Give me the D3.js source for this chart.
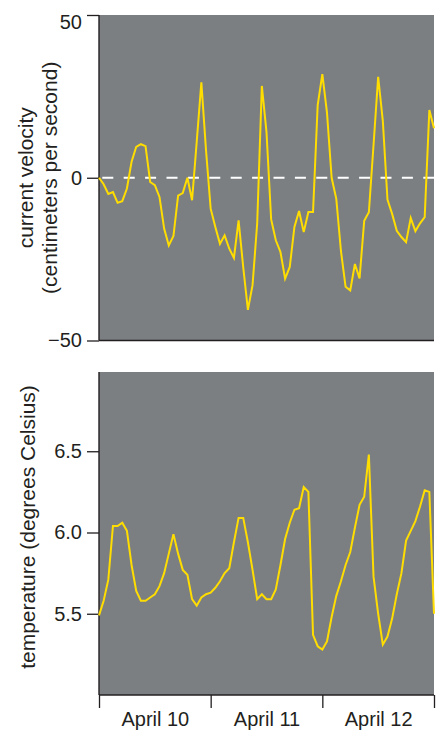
<!DOCTYPE html>
<html>
<head>
<meta charset="utf-8">
<script src="https://cdn.jsdelivr.net/npm/d3@7"></script>
<style>
  body { margin: 0; background: #fff; }
  svg { display: block; font-family: 'Liberation Sans', Arial, Helvetica, sans-serif; }
</style>
</head>
<body>
<svg id="chart"></svg>
<script>
// hourly readings, April 10 00:00 to April 13 00:00
const startDay = new Date(2000, 3, 10);
const endDay = new Date(2000, 3, 13);
const dayLabels = ['April 10', 'April 11', 'April 12'];

const velocity = [
  0, -2, -5, -4.4, -7.7, -7.2, -3.3, 4.9, 9.5, 10.3, 9.7, -1.3,
  -2.3, -5.9, -15.6, -20.8, -17.9, -5.5, -4.7, 0, -6.9, 11, 29.3, 8.5,
  -9.5, -15.1, -20.3, -17.7, -21.8, -24.6, -13.1, -27.5, -40.6, -33, -14, 28.2,
  14, -12.8, -19.2, -22.8, -31, -27.4, -15.1, -10.2, -16.7, -10.5, -10.5, 22.3,
  31.8, 20, 0, -6.5, -22.5, -33.5, -34.6, -26.5, -30.9, -13.2, -10.6, 10,
  31, 17.5, -6.7, -11.1, -16.3, -18.2, -19.8, -12.4, -16.4, -14, -12.1, 20.8,
  15.2
];

const temperature = [
  5.49, 5.58, 5.71, 6.04, 6.04, 6.06, 6.01, 5.80, 5.64, 5.58, 5.58, 5.60,
  5.62, 5.67, 5.75, 5.87, 5.99, 5.87, 5.77, 5.74, 5.59, 5.55, 5.60, 5.62,
  5.63, 5.66, 5.70, 5.75, 5.78, 5.94, 6.09, 6.09, 5.94, 5.77, 5.59, 5.62,
  5.59, 5.59, 5.65, 5.80, 5.96, 6.06, 6.14, 6.15, 6.28, 6.25, 5.37, 5.30,
  5.28, 5.33, 5.48, 5.61, 5.70, 5.80, 5.88, 6.03, 6.17, 6.22, 6.48, 5.73,
  5.50, 5.31, 5.36, 5.47, 5.62, 5.75, 5.95, 6.01, 6.07, 6.16, 6.26, 6.25,
  5.50
];

const velocityTicks = [-50, 0, 50];
const temperatureTicks = [5.5, 6.0, 6.5];

const w = 438;
const h = 732;
const left = 99;
const right = 434;
const top1 = 15, bottom1 = 340.5;
const top2 = 372, bottom2 = 695;

const gray = '#7b7f82';
const yellow = '#ffdd00';
const ink = '#231f20';

const svg = d3.select('#chart')
  .attr('width', w)
  .attr('height', h);

const x = d3.scaleTime()
  .domain([startDay, endDay])
  .range([left, right]);
const yV = d3.scaleLinear()
  .domain([-50, 50])
  .range([bottom1, top1]);
const yT = d3.scaleLinear()
  .domain([5, 7])
  .range([bottom2, 370]);

const hourOf = i => d3.timeHour.offset(startDay, i);

// panels
svg.append('rect')
  .attr('x', left).attr('y', top1)
  .attr('width', right - left).attr('height', bottom1 - top1)
  .attr('fill', gray);
svg.append('rect')
  .attr('x', left).attr('y', top2)
  .attr('width', right - left).attr('height', bottom2 - top2)
  .attr('fill', gray);

// zero line
svg.append('line')
  .attr('x1', left).attr('x2', right)
  .attr('y1', yV(0)).attr('y2', yV(0))
  .attr('stroke', '#fff')
  .attr('stroke-width', 2)
  .attr('stroke-dasharray', '11 10.4')
  .attr('stroke-dashoffset', 18.1);

const styleAxis = g => {
  g.select('.domain').remove();
  g.selectAll('.tick line').attr('stroke', ink).attr('stroke-width', 1.3);
  g.selectAll('.tick text')
    .attr('fill', ink)
    .style('font-size', '20px')
    .style('font-family', "'Liberation Sans', Arial, Helvetica, sans-serif");
};

svg.append('g')
  .attr('transform', `translate(${left},0)`)
  .call(d3.axisLeft(yV).tickValues(velocityTicks).tickSize(12).tickPadding(5))
  .call(styleAxis)
  .call(g => g.selectAll('.tick text').filter(d => d === 50).attr('dy', '0.67em'));

svg.append('g')
  .attr('transform', `translate(${left},0)`)
  .call(d3.axisLeft(yT).tickValues(temperatureTicks).tickSize(12).tickPadding(5)
    .tickFormat(d3.format('.1f')))
  .call(styleAxis);

svg.append('g')
  .attr('transform', `translate(0,${bottom2})`)
  .call(d3.axisBottom(x).ticks(d3.timeDay.every(1)).tickSize(13).tickFormat(''))
  .call(styleAxis);

svg.append('g')
  .attr('transform', `translate(0,${bottom2})`)
  .call(d3.axisBottom(x)
    .tickValues(dayLabels.map((_, i) => d3.timeHour.offset(startDay, i * 24 + 12)))
    .tickSize(0).tickPadding(17)
    .tickFormat((_, i) => dayLabels[i]))
  .call(styleAxis)
  .call(g => g.selectAll('.tick line').remove());

// frame lines
const frame = svg.append('g')
  .attr('stroke', ink)
  .attr('stroke-width', 1.4);
frame.append('line').attr('x1', left).attr('x2', left).attr('y1', top1).attr('y2', bottom1);
frame.append('line').attr('x1', left).attr('x2', right).attr('y1', bottom1).attr('y2', bottom1);
frame.append('line').attr('x1', left).attr('x2', left).attr('y1', top2).attr('y2', bottom2);
frame.append('line').attr('x1', left).attr('x2', right).attr('y1', bottom2).attr('y2', bottom2);

// series
svg.append('path')
  .datum(velocity)
  .attr('fill', 'none')
  .attr('stroke', yellow)
  .attr('stroke-width', 2)
  .attr('d', d3.line().x((_, i) => x(hourOf(i))).y(d => yV(d)));

svg.append('path')
  .datum(temperature)
  .attr('fill', 'none')
  .attr('stroke', yellow)
  .attr('stroke-width', 2)
  .attr('d', d3.line().x((_, i) => x(hourOf(i))).y(d => yT(d)));

// axis titles
const titles = svg.append('g')
  .attr('fill', ink)
  .style('font-size', '21px')
  .attr('text-anchor', 'middle');
titles.append('text')
  .attr('transform', `translate(33,${yV(0)}) rotate(-90)`)
  .text('current velocity');
titles.append('text')
  .attr('transform', `translate(57,${yV(0)}) rotate(-90)`)
  .text('(centimeters per second)');
titles.append('text')
  .attr('transform', 'translate(35,527) rotate(-90)')
  .text('temperature (degrees Celsius)');
</script>
</body>
</html>
